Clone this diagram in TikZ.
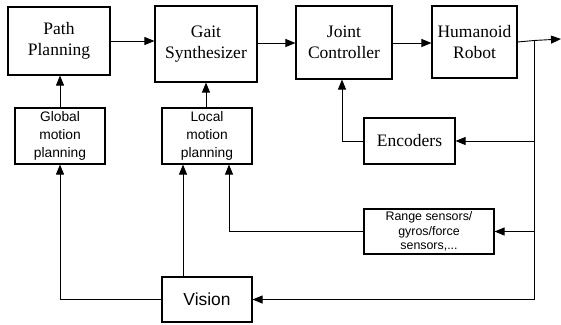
\documentclass[tikz,border=0pt]{standalone}
\usepackage{fontspec}
\setmainfont{Liberation Serif}
\setsansfont{Liberation Sans}
\usetikzlibrary{arrows.meta,positioning}
\begin{document}
\begin{tikzpicture}[x=1pt,y=-1pt,line width=0.9pt,
  blk/.style={draw,line width=1.1pt,inner sep=0pt,align=center},
  serifblk/.style={blk,font=\rmfamily\fontsize{17.5}{21}\selectfont},
  planblk/.style={blk,font=\sffamily\fontsize{13.8}{18}\selectfont,minimum width=90pt,minimum height=56pt},
  arr/.style={-{Triangle[length=10pt,width=8pt]}}]
\useasboundingbox (0,0) rectangle (561,324);

% forward chain
\node[serifblk,minimum width=102pt,minimum height=68pt] (path) at (59,41) {Path\\Planning};
\node[serifblk,minimum width=102pt,minimum height=76pt] (gait) at (206,44) {Gait\\Synthesizer};
\node[serifblk,minimum width=96pt,minimum height=73pt] (joint) at (344,42.5) {Joint\\Controller};
\node[serifblk,minimum width=85pt,minimum height=72pt] (robot) at (474.5,42) {Humanoid\\Robot};

% planning layer
\node[planblk] (glob) at (60,136) {Global\\motion\\planning};
\node[planblk] (loc) at (207,136) {Local\\motion\\planning};

% sensing
\node[serifblk,minimum width=91pt,minimum height=46pt] (enc) at (409.5,141) {Encoders};
\node[blk,font=\sffamily\fontsize{12.4}{14.5}\selectfont,minimum width=130pt,minimum height=45pt] (range) at (429,231.5) {Range sensors/\\gyros/force\\sensors,...};
\node[blk,font=\sffamily\fontsize{17.4}{20}\selectfont,minimum width=90pt,minimum height=45pt] (vision) at (207,299.5) {Vision};

% feedback bus
\coordinate (tap) at (534,40.5);
\coordinate (out) at (561,39);
\coordinate (bot) at (534,299.5);

\draw[arr] (path.east |- 0,41) -- (gait.west |- 0,41);
\draw[arr] (gait.east |- 0,43) -- (joint.west |- 0,43);
\draw[arr] (joint.east |- 0,43) -- (robot.west |- 0,43);
\draw[arr] (robot.east |- 0,42) -- (tap) -- (out);
\draw (tap) -- (bot);

\draw[arr] (tap |- enc.east) -- (enc.east);
\draw[arr] (tap |- range.east) -- (range.east);
\draw[arr] (bot) -- (vision.east);

\draw[arr] (enc.west) -| ([xshift=-2pt]joint.south);
\draw[arr] (range.west) -| ([xshift=22pt]loc.south);
\draw[arr] ([xshift=-24pt]vision.north) -- ([xshift=-24pt]loc.south);
\draw[arr] (vision.west) -| (glob.south);

\draw[arr] (glob.north) -- (glob.north |- path.south);
\draw[arr] ([xshift=-1pt]loc.north) -- ([xshift=-1pt]loc.north |- gait.south);
\end{tikzpicture}
\end{document}
